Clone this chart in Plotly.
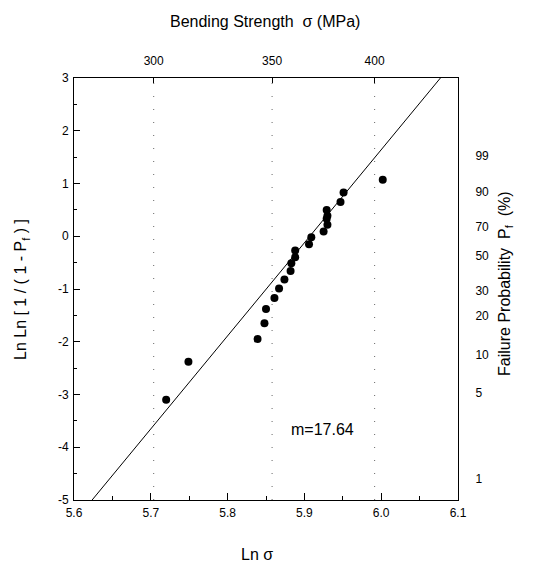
import numpy as np
import plotly.graph_objects as go

# ---- data ----
ln_sigma = [6.002, 5.951, 5.947, 5.929, 5.930, 5.929, 5.930, 5.925, 5.909, 5.906, 5.888,
            5.888, 5.883, 5.882, 5.874, 5.867, 5.861, 5.850, 5.848, 5.839, 5.749, 5.720]
lnln = [1.07, 0.83, 0.65, 0.50, 0.39, 0.33, 0.22, 0.09, -0.02, -0.15, -0.27,
        -0.40, -0.51, -0.66, -0.82, -0.99, -1.17, -1.38, -1.65, -1.95, -2.38, -3.10]

weibull_m = 17.64
fit_intercept = -104.2

top_ticks_mpa = [300, 350, 400]
right_ticks_pct = [99, 90, 70, 50, 30, 20, 10, 5, 1]
bottom_tickvals = [5.6, 5.7, 5.8, 5.9, 6.0, 6.1]
left_tickvals = [3, 2, 1, 0, -1, -2, -3, -4, -5]

x_range = [5.6, 6.1]
y_range = [-5, 3]

FONT = "Liberation Sans, Arial, sans-serif"

fig = go.Figure()

# dotted guide lines at the top-axis stress values
gx, gy = [], []
for s in top_ticks_mpa:
    gx += [np.log(s), np.log(s), None]
    gy += [y_range[0], y_range[1], None]
fig.add_trace(go.Scatter(x=gx, y=gy, mode="lines", xaxis="x2", yaxis="y2",
                         line=dict(color="#666", width=1, dash="1px,12px"),
                         hoverinfo="skip", showlegend=False))

# fitted line
lx = np.array(x_range)
fig.add_trace(go.Scatter(x=lx, y=weibull_m * lx + fit_intercept, mode="lines",
                         line=dict(color="black", width=1), showlegend=False))

# data points
fig.add_trace(go.Scatter(x=ln_sigma, y=lnln, mode="markers",
                         marker=dict(color="black", size=8), showlegend=False))

axis_common = dict(showline=True, linecolor="black", linewidth=1, showgrid=False,
                   zeroline=False, tickfont=dict(family=FONT, size=12, color="black"))

def ann(text, x, y, angle=0, xref="paper", yref="paper"):
    return dict(text=text, xref=xref, yref=yref, x=x, y=y, textangle=angle,
                xanchor="center", yanchor="middle", showarrow=False,
                font=dict(family=FONT, size=16, color="black"))

fig.update_layout(
    width=525, height=559,
    margin=dict(l=66, r=75, t=70, b=67),
    paper_bgcolor="white", plot_bgcolor="white",
    xaxis=dict(range=x_range, tickvals=bottom_tickvals,
               ticktext=[f"{v:.1f}" for v in bottom_tickvals],
               ticks="inside", ticklen=7, tickcolor="black", ticklabelstandoff=2,
               minor=dict(ticks="inside", ticklen=4, dtick=0.05, tick0=5.6, tickcolor="black"),
               **axis_common),
    yaxis=dict(range=y_range, tickvals=left_tickvals, ticktext=[str(v) for v in left_tickvals],
               ticks="inside", ticklen=6, tickcolor="black", ticklabelstandoff=2,
               minor=dict(ticks="inside", ticklen=3, dtick=0.5, tick0=0, tickcolor="black"),
               **axis_common),
    xaxis2=dict(range=x_range, overlaying="x", side="top", anchor="y",
                tickvals=list(np.log(top_ticks_mpa)), ticktext=[str(v) for v in top_ticks_mpa],
                ticks="inside", ticklen=5, tickcolor="black", ticklabelstandoff=7,
                **axis_common),
    yaxis2=dict(range=y_range, overlaying="y", side="right", anchor="x",
                tickvals=list(np.log(-np.log(1 - np.array(right_ticks_pct) / 100.0))),
                ticktext=[str(v) for v in right_ticks_pct],
                ticks="", ticklabelstandoff=14,
                **axis_common),
    annotations=[
        ann("Bending Strength  σ (MPa)", 0.497, 1.133),
        ann("Ln σ", 0.477, -0.130),
        ann("Ln Ln [ 1 / ( 1 - P<sub>f</sub> ) ]", -0.135, 0.498, -90),
        ann("Failure Probability  P<sub>f</sub>  (%)", 1.122, 0.514, -90),
        ann("m=17.64", 5.924, -3.67, 0, "x", "y"),
    ],
)

fig.write_html("out.html")
